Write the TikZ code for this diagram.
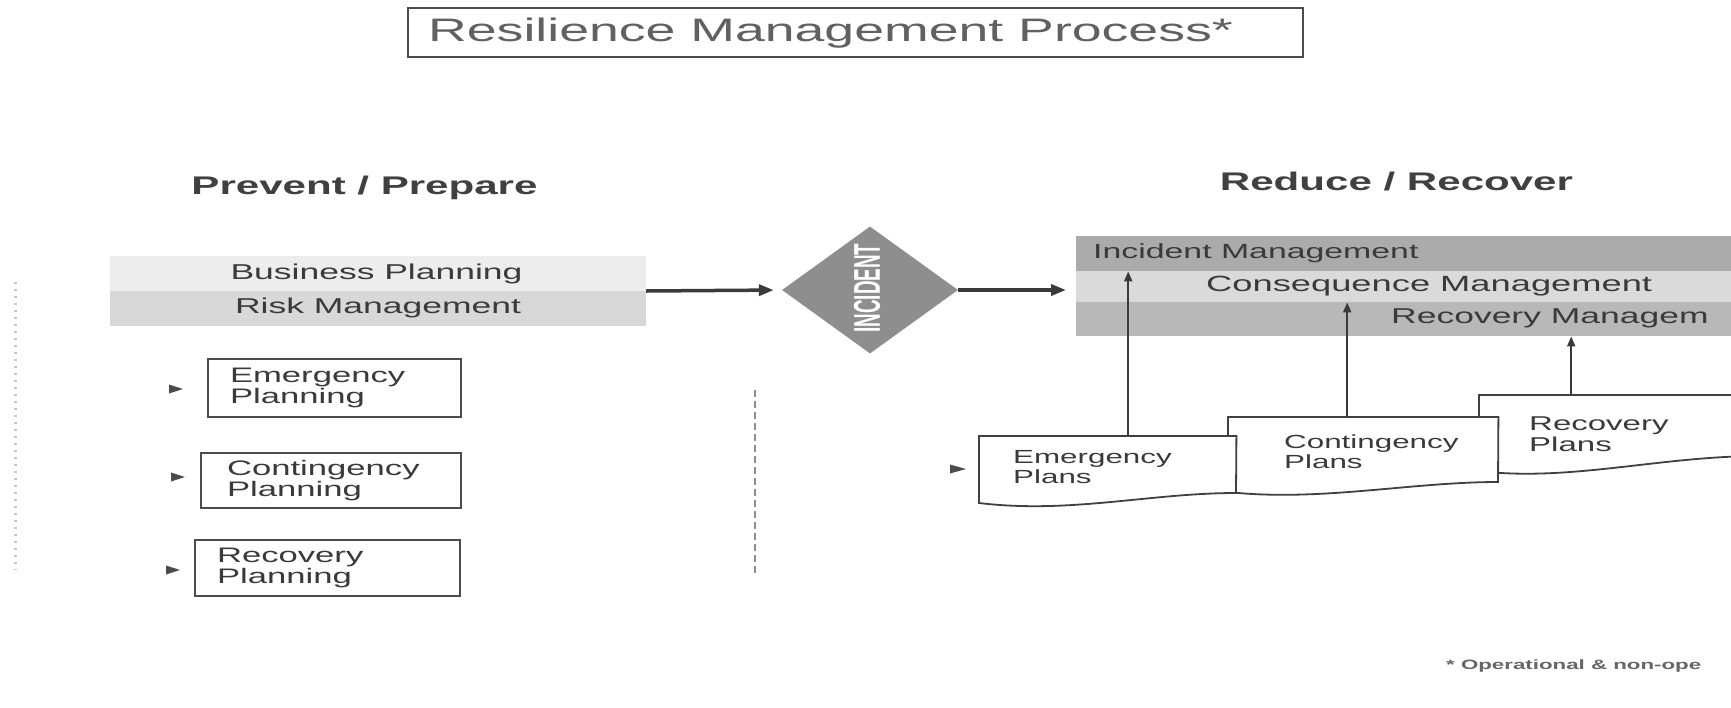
\documentclass[tikz,border=0pt]{standalone}
\usepackage{fontspec}
\usepackage{graphicx}
\newfontfamily\wf[FakeStretch=1.65]{Liberation Sans}
\newfontfamily\plainsans{Liberation Sans}
\usetikzlibrary{shapes.geometric,arrows.meta}
\definecolor{txtgray}{HTML}{3A3A3A}
\definecolor{bandA}{HTML}{EDEDED}
\definecolor{bandB}{HTML}{D8D8D8}
\definecolor{rowA}{HTML}{ABABAB}
\definecolor{rowB}{HTML}{DADADA}
\definecolor{rowC}{HTML}{B8B8B8}
\definecolor{diamondgray}{HTML}{8E8E8E}
\definecolor{linegray}{HTML}{3A3A3A}
\tikzset{
  txt/.style={inner sep=0, text=txtgray, align=left},
  heading/.style={inner sep=0, text=black!75, font=\wf\bfseries\fontsize{25.5}{25.5}\selectfont},
  planbox/.style={draw=black!70, line width=2.5pt, fill=white, align=left, inner ysep=0pt, text=txtgray,
    font=\wf\fontsize{21}{19}\selectfont},
  bigarr/.style={draw=linegray, line width=3.5pt, -{Triangle[length=15pt,width=11pt]}},
  uparr/.style={draw=linegray, line width=2pt, -{Triangle[length=10pt,width=8pt]}},
  docpath/.style={draw=black!75, line width=1.8pt, fill=white},
  tipmark/.style={fill=black!70},
  anchorbox/.style={inner sep=0, draw=none}
}
\begin{document}
\begin{tikzpicture}[x=1pt,y=-1pt]
\useasboundingbox (0,0) rectangle (1731,707);
\begin{scope}
\clip (0,0) rectangle (1731,707);
\fill[white] (0,0) rectangle (1731,707);

% title
\node[draw=black!70, line width=2pt, minimum width=895pt, minimum height=49pt, inner sep=0] (titlebox) at (855.5,32.5) {};
\node[anchor=west, inner sep=0, text=black!62, font=\wf\fontsize{32.5}{32.5}\selectfont] (title) at (428,33) {Resilience Management Process*};

% headings
\node[heading] (prev) at (364.5,188) {Prevent / Prepare};
\node[heading] (redu) at (1396.5,182) {Reduce / Recover};

% left band
\node[anchorbox, minimum width=536pt, minimum height=70pt] (lband) at (378,291) {};
\fill[bandA] (lband.north west) rectangle (lband.east);
\fill[bandB] (lband.west) rectangle (lband.south east);
\node[txt, font=\wf\fontsize{21.5}{21.5}\selectfont] (bp) at (376.5,274) {Business Planning};
\node[txt, font=\wf\fontsize{21.5}{21.5}\selectfont] (rm) at (378,308) {Risk Management};

% incident diamond
\node[diamond, fill=diamondgray, minimum width=176pt, minimum height=127pt, aspect=1.386, inner sep=0] (incident) at (870,290) {};
\node[rotate=90, inner sep=0, text=white] (inctext) at (867,288) {\resizebox{89pt}{26pt}{\plainsans\bfseries INCIDENT}};

% right band rows
\node[anchorbox, fill=rowA, minimum width=700pt, minimum height=35pt, anchor=north west] (imrow) at (1076,236) {};
\node[anchorbox, fill=rowB, minimum width=700pt, minimum height=31pt, anchor=north west] (cmrow) at (1076,271) {};
\node[anchorbox, fill=rowC, minimum width=700pt, minimum height=34pt, anchor=north west] (rmrow) at (1076,302) {};
\node[txt, anchor=west, font=\wf\fontsize{20.5}{20.5}\selectfont] (imtext) at (1093,253) {Incident Management};
\node[txt, anchor=west, font=\wf\fontsize{22}{22}\selectfont] (cmtext) at (1206,286) {Consequence Management};
\node[txt, anchor=west, font=\wf\fontsize{21.5}{21.5}\selectfont] (rmtext) at (1391,318) {Recovery Managem};

% main arrows
\draw[bigarr, shorten >=8pt] (lband.east) -- (incident.west);
\draw[bigarr, shorten >=10pt] (incident.east) -- (incident.east -| imrow.west);

% left planning boxes
\node[planbox, text width=209pt, inner xsep=22pt, minimum height=58pt] (epl) at (334.5,388) {Emergency\\Planning};
\node[planbox, text width=208pt, inner xsep=26pt, minimum height=55pt] (cpl) at (331,480.5) {Contingency\\Planning};
\node[planbox, text width=221pt, inner xsep=22pt, minimum height=56pt] (rpl) at (327.5,568) {Recovery\\Planning};
\fill[tipmark] (169,384.5) -- (183,389) -- (169,393.5) -- cycle;
\fill[tipmark] (171,472.5) -- (185,477) -- (171,481.5) -- cycle;
\fill[tipmark] (166,565.5) -- (180,570) -- (166,574.5) -- cycle;

% dashed divider
\draw[black!45, line width=2pt, dash pattern=on 7pt off 4pt] (755,390) -- (755,574);
% faint marks at left edge
\draw[black!22, line width=3pt, dash pattern=on 2pt off 5pt] (15,282) -- (15,570);

% plans (documents), back to front
\node[anchorbox, minimum width=281pt, minimum height=60pt, anchor=north west] (rplan) at (1479,395) {};
\draw[docpath] (rplan.north west) -- (rplan.north east) -- (1760,456) .. controls (1660,456) and (1570,482) .. (1479,471) -- cycle;
\node[txt, anchor=west, font=\wf\fontsize{20}{21}\selectfont] (rptext) at (1529,434) {Recovery\\Plans};

\node[anchorbox, minimum width=270pt, minimum height=60pt, anchor=north west] (cplan) at (1228,417) {};
\draw[docpath] (cplan.north west) -- (cplan.north east) -- (1498,482) .. controls (1410,482) and (1320,502) .. (1228,492) -- cycle;
\node[txt, anchor=west, font=\wf\fontsize{19}{20}\selectfont] (cptext) at (1284,451.5) {Contingency\\Plans};

\node[anchorbox, minimum width=257pt, minimum height=60pt, anchor=north west] (eplan) at (979,436) {};
\draw[docpath] (eplan.north west) -- (eplan.north east) -- (1236,493) .. controls (1150,493) and (1070,514) .. (979,503) -- cycle;
\node[txt, anchor=west, font=\wf\fontsize{19}{20}\selectfont] (eptext) at (1013,467.5) {Emergency\\Plans};
\fill[tipmark] (950,464.5) -- (966,469) -- (950,473.5) -- cycle;

% upward arrows
\draw[uparr] ([xshift=20.5pt]eplan.north) -- ([xshift=20.5pt]eplan.north |- imrow.south);
\draw[uparr] ([xshift=-16pt]cplan.north) -- ([xshift=-16pt]cplan.north |- cmrow.south);
\draw[uparr] ([xshift=-48.5pt]rplan.north) -- ([xshift=-48.5pt]rplan.north |- rmrow.south);

% footnote
\node[txt, anchor=west, text=black!60, font=\wf\bfseries\fontsize{13.5}{13.5}\selectfont] (foot) at (1446,666) {* Operational \& non-ope};
\end{scope}
\end{tikzpicture}
\end{document}
